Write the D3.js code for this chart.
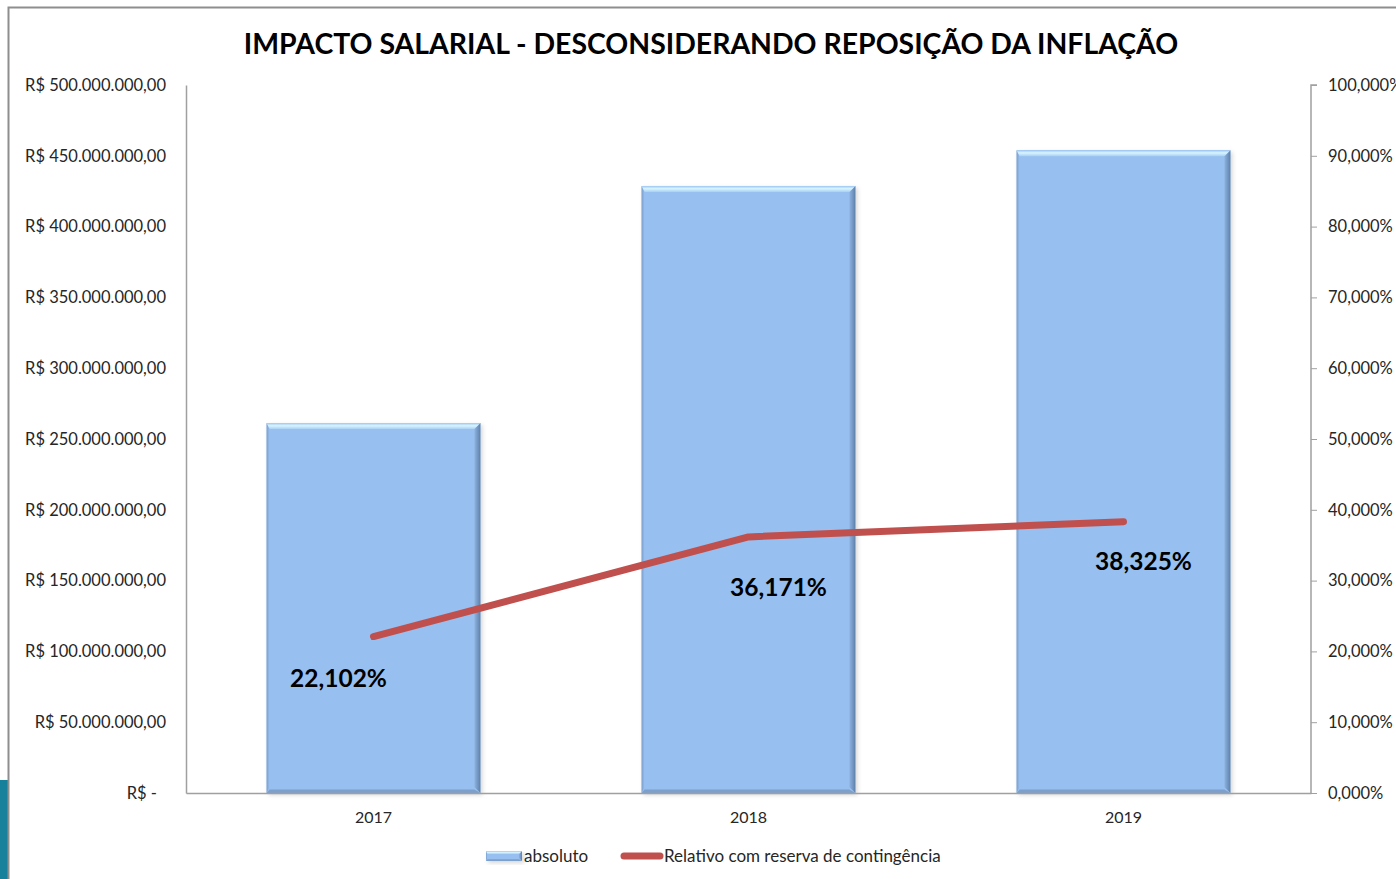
<!DOCTYPE html>
<html><head><meta charset="utf-8">
<script src="https://cdn.jsdelivr.net/npm/d3@7"></script>
<style>html,body{margin:0;padding:0;background:#fff;}svg{display:block;font-family:Lato,"Open Sans",sans-serif;}</style>
</head><body>
<svg id="c" width="1396" height="879"></svg>
<script>
const title = "IMPACTO SALARIAL - DESCONSIDERANDO REPOSIÇÃO DA INFLAÇÃO";
const categories = ["2017", "2018", "2019"];
const absoluto = [261300000, 428700000, 454000000];
const relativo = [0.22102, 0.36171, 0.38325];
const leftTicks = [0, 50e6, 100e6, 150e6, 200e6, 250e6, 300e6, 350e6, 400e6, 450e6, 500e6];
const rightTicks = [0, 0.1, 0.2, 0.3, 0.4, 0.5, 0.6, 0.7, 0.8, 0.9, 1.0];
const seriesNames = ["absoluto", "Relativo com reserva de contingência"];
// label offsets relative to line points (style only)
const labelOffsets = [[-35, 50], [30, 59], [20, 48]];

const svg = d3.select("#c");
const M = {left: 186, right: 1311, top: 85, bottom: 793};

const loc = d3.formatLocale({decimal: ",", thousands: ".", grouping: [3], currency: ["R$ ", ""]});
const fmtMoney = loc.format("$,.2f");
const fmtPct = loc.format(".3%");

// background pieces
svg.append("rect").attr("x", 0).attr("y", 780).attr("width", 8).attr("height", 99).attr("fill", "#17809b");
svg.append("rect").attr("x", 8.5).attr("y", 7.5).attr("width", 1500).attr("height", 1000)
  .attr("fill", "#fff").attr("stroke", "#8e8e8e").attr("stroke-width", 2);

const defs = svg.append("defs");
const gTop = defs.append("linearGradient").attr("id", "gtop").attr("x1", 0).attr("y1", 0).attr("x2", 0).attr("y2", 1);
gTop.append("stop").attr("offset", "0%").attr("stop-color", "#9cc6f0");
gTop.append("stop").attr("offset", "45%").attr("stop-color", "#d8f4ff");
gTop.append("stop").attr("offset", "100%").attr("stop-color", "#a9d0f5");
const gRight = defs.append("linearGradient").attr("id", "gright").attr("x1", 0).attr("y1", 0).attr("x2", 1).attr("y2", 0);
gRight.append("stop").attr("offset", "0%").attr("stop-color", "#8fb3e0");
gRight.append("stop").attr("offset", "100%").attr("stop-color", "#5d80ab");
const gLeft = defs.append("linearGradient").attr("id", "gleft").attr("x1", 0).attr("y1", 0).attr("x2", 1).attr("y2", 0);
gLeft.append("stop").attr("offset", "0%").attr("stop-color", "#7b9fcc");
gLeft.append("stop").attr("offset", "100%").attr("stop-color", "#97bfef");
const shadow = defs.append("filter").attr("id", "sh").attr("x", "-10%").attr("y", "-10%").attr("width", "130%").attr("height", "130%");
shadow.append("feGaussianBlur").attr("stdDeviation", 2);

const x = d3.scaleBand().domain(categories).range([M.left, M.right]).paddingInner(0.43).paddingOuter(0.215);
const y = d3.scaleLinear().domain([0, 500e6]).range([M.bottom, M.top]);
const y2 = d3.scaleLinear().domain([0, 1]).range([M.bottom, M.top]);

// title
const t = svg.append("text").attr("x", 711).attr("y", 54).attr("text-anchor", "middle")
  .attr("font-weight", "bold").attr("font-size", 28).attr("fill", "#000").text(title);
const tw = t.node().getComputedTextLength();
t.attr("font-size", 28 * 935 / tw);

function bevelBar(g, x0, y0, w, h, b) {
  const x1 = x0 + w, y1 = y0 + h;
  g.append("rect").attr("x", x0 + 2).attr("y", y0 + 2).attr("width", w).attr("height", h)
    .attr("fill", "#8a8a8a").attr("opacity", 0.35).attr("filter", "url(#sh)");
  g.append("rect").attr("x", x0).attr("y", y0).attr("width", w).attr("height", h).attr("fill", "#97bfef");
  g.append("polygon").attr("points", [[x0, y0], [x0 + b * 0.5, y0 + b], [x0 + b * 0.5, y1 - b], [x0, y1]].join(" ")).attr("fill", "url(#gleft)");
  g.append("polygon").attr("points", [[x1, y0], [x1 - b, y0 + b], [x1 - b, y1 - b], [x1, y1]].join(" ")).attr("fill", "url(#gright)");
  g.append("polygon").attr("points", [[x0, y0], [x1, y0], [x1 - b, y0 + b], [x0 + b * 0.5, y0 + b]].join(" ")).attr("fill", "url(#gtop)");
  g.append("polygon").attr("points", [[x0, y1], [x1, y1], [x1 - b, y1 - b * 0.6], [x0 + b * 0.5, y1 - b * 0.6]].join(" ")).attr("fill", "#7d9fcc");
}

// bars
const barsG = svg.append("g");
categories.forEach((c, i) => {
  const g = barsG.append("g");
  bevelBar(g, x(c), y(absoluto[i]), x.bandwidth(), y(0) - y(absoluto[i]), 6);
});

// axes
const axisColor = "#a0a0a0";
const textColor = "#262626";
const gl = svg.append("g").attr("transform", `translate(${M.left},0)`)
  .call(d3.axisLeft(y).tickValues(leftTicks).tickSize(0).tickPadding(20)
    .tickFormat(d => d === 0 ? "R$ -" : fmtMoney(d)));
gl.selectAll("text").filter(d => d === 0).attr("dx", -9);
const gr = svg.append("g").attr("transform", `translate(${M.right},0)`)
  .call(d3.axisRight(y2).tickValues(rightTicks).tickSize(6).tickPadding(11).tickFormat(fmtPct));
const gb = svg.append("g").attr("transform", `translate(0,${M.bottom})`)
  .call(d3.axisBottom(x).tickSize(0).tickPadding(19));
[gl, gr, gb].forEach(g => {
  g.select(".domain").attr("stroke", axisColor).attr("stroke-width", 1.5);
  g.selectAll(".tick line").attr("stroke", axisColor);
  g.selectAll("text").attr("font-family", "Lato, sans-serif").attr("font-size", 16.5).attr("fill", textColor);
});
gr.select(".domain").attr("d", `M6,${M.top}H0V${M.bottom}H0`);
gb.selectAll("text").attr("font-size", 16);

// line
const pts = categories.map((c, i) => [x(c) + x.bandwidth() / 2, y2(relativo[i])]);
svg.append("path").datum(pts).attr("d", d3.line()).attr("fill", "none")
  .attr("stroke", "#c0504d").attr("stroke-width", 7).attr("stroke-linecap", "round").attr("stroke-linejoin", "round");

// data labels
svg.append("g").selectAll("text").data(relativo).join("text")
  .attr("x", (d, i) => pts[i][0] + labelOffsets[i][0])
  .attr("y", (d, i) => pts[i][1] + labelOffsets[i][1])
  .attr("text-anchor", "middle").attr("font-weight", "bold").attr("font-size", 24.5).attr("fill", "#000")
  .text(d => loc.format(".3%")(d));

// legend
const lg = svg.append("g");
const lb = lg.append("g");
bevelBar(lb, 486, 851, 36, 10, 3);
lg.append("text").attr("x", 524).attr("y", 862).attr("font-size", 17).attr("fill", textColor).text(seriesNames[0]);
lg.append("line").attr("x1", 624).attr("x2", 660).attr("y1", 856).attr("y2", 856)
  .attr("stroke", "#c0504d").attr("stroke-width", 7).attr("stroke-linecap", "round");
lg.append("text").attr("x", 664).attr("y", 862).attr("font-size", 17).attr("fill", textColor).text(seriesNames[1]);
</script>
</body></html>
